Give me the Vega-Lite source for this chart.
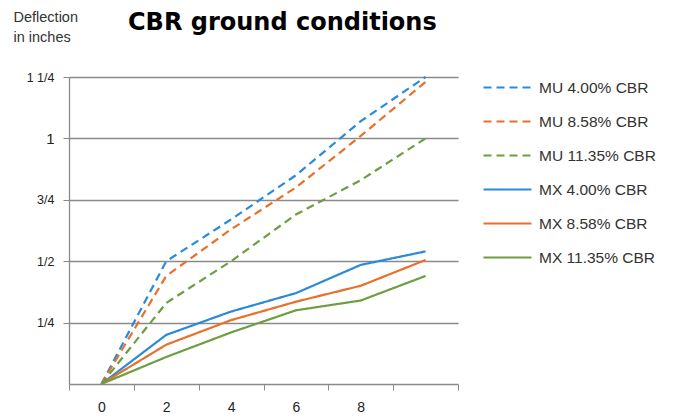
{
  "$schema": "https://vega.github.io/schema/vega-lite/v6.json",
  "width": 389,
  "height": 307,
  "autosize": "none",
  "padding": {"left": 69, "top": 77, "right": 217, "bottom": 34},
  "background": "white",
  "title": {
    "text": "CBR ground conditions",
    "anchor": "start",
    "frame": "group",
    "dx": 59,
    "offset": -26,
    "font": "DejaVu Sans",
    "fontSize": 24,
    "fontWeight": "bold",
    "color": "#000000"
  },
  "data": {
    "values": [
      {"x": 0, "series": "MU 4.00% CBR", "d": 0},
      {"x": 2, "series": "MU 4.00% CBR", "d": 0.5},
      {"x": 4, "series": "MU 4.00% CBR", "d": 0.67},
      {"x": 6, "series": "MU 4.00% CBR", "d": 0.85},
      {"x": 8, "series": "MU 4.00% CBR", "d": 1.07},
      {"x": 10, "series": "MU 4.00% CBR", "d": 1.25},
      {"x": 0, "series": "MU 8.58% CBR", "d": 0},
      {"x": 2, "series": "MU 8.58% CBR", "d": 0.44},
      {"x": 4, "series": "MU 8.58% CBR", "d": 0.63},
      {"x": 6, "series": "MU 8.58% CBR", "d": 0.8},
      {"x": 8, "series": "MU 8.58% CBR", "d": 1.01},
      {"x": 10, "series": "MU 8.58% CBR", "d": 1.23},
      {"x": 0, "series": "MU 11.35% CBR", "d": 0},
      {"x": 2, "series": "MU 11.35% CBR", "d": 0.33},
      {"x": 4, "series": "MU 11.35% CBR", "d": 0.5},
      {"x": 6, "series": "MU 11.35% CBR", "d": 0.69},
      {"x": 8, "series": "MU 11.35% CBR", "d": 0.83},
      {"x": 10, "series": "MU 11.35% CBR", "d": 1.0},
      {"x": 0, "series": "MX 4.00% CBR", "d": 0},
      {"x": 2, "series": "MX 4.00% CBR", "d": 0.2},
      {"x": 4, "series": "MX 4.00% CBR", "d": 0.295},
      {"x": 6, "series": "MX 4.00% CBR", "d": 0.37},
      {"x": 8, "series": "MX 4.00% CBR", "d": 0.485},
      {"x": 10, "series": "MX 4.00% CBR", "d": 0.54},
      {"x": 0, "series": "MX 8.58% CBR", "d": 0},
      {"x": 2, "series": "MX 8.58% CBR", "d": 0.16},
      {"x": 4, "series": "MX 8.58% CBR", "d": 0.26},
      {"x": 6, "series": "MX 8.58% CBR", "d": 0.335},
      {"x": 8, "series": "MX 8.58% CBR", "d": 0.4},
      {"x": 10, "series": "MX 8.58% CBR", "d": 0.505},
      {"x": 0, "series": "MX 11.35% CBR", "d": 0},
      {"x": 2, "series": "MX 11.35% CBR", "d": 0.11},
      {"x": 4, "series": "MX 11.35% CBR", "d": 0.21},
      {"x": 6, "series": "MX 11.35% CBR", "d": 0.3},
      {"x": 8, "series": "MX 11.35% CBR", "d": 0.34},
      {"x": 10, "series": "MX 11.35% CBR", "d": 0.44}
    ]
  },
  "mark": {"type": "line", "strokeWidth": 2.2},
  "encoding": {
    "x": {
      "field": "x",
      "type": "ordinal",
      "bandPosition": 0.5,
      "scale": {"type": "band", "paddingInner": 0, "paddingOuter": 0},
      "axis": {
        "title": null,
        "labelAngle": 0,
        "tickBand": "extent",
        "labelExpr": "datum.value == 10 ? '' : datum.label",
        "labelFont": "Liberation Sans",
        "labelFontSize": 14,
        "labelColor": "#222222",
        "labelPadding": 10,
        "tickSize": 6,
        "tickColor": "#8a8a8a",
        "domainColor": "#8a8a8a",
        "domainWidth": 1.3,
        "grid": false
      }
    },
    "y": {
      "field": "d",
      "type": "quantitative",
      "scale": {"domain": [0, 1.25], "nice": false},
      "axis": {
        "values": [0.25, 0.5, 0.75, 1, 1.25],
        "labelExpr": "datum.value == 0.25 ? '1/4' : datum.value == 0.5 ? '1/2' : datum.value == 0.75 ? '3/4' : datum.value == 1 ? '1' : '1 1/4'",
        "labelFont": "Liberation Sans",
        "labelFontSize": {"condition": {"test": "datum.value == 1", "value": 15}, "value": 12.5},
        "labelColor": "#222222",
        "labelPadding": 9,
        "tickSize": 6,
        "tickColor": "#8a8a8a",
        "domainColor": "#8a8a8a",
        "domainWidth": 1.3,
        "grid": true,
        "gridColor": "#8a8a8a",
        "gridWidth": 1.3,
        "title": ["Deflection", "in inches"],
        "titleAngle": 0,
        "titleAlign": "left",
        "titleBaseline": "top",
        "titleX": -56,
        "titleY": -67,
        "titleFont": "Liberation Sans",
        "titleFontSize": 14.5,
        "titleFontWeight": "normal",
        "titleColor": "#333333",
        "titleLineHeight": 20
      }
    },
    "color": {
      "field": "series",
      "type": "nominal",
      "scale": {
        "domain": ["MU 4.00% CBR", "MU 8.58% CBR", "MU 11.35% CBR", "MX 4.00% CBR", "MX 8.58% CBR", "MX 11.35% CBR"],
        "range": ["#2a8ad8", "#e8702a", "#6e9e40", "#2a8ad8", "#e8702a", "#6e9e40"]
      },
      "legend": {
        "title": null,
        "orient": "none",
        "legendX": 413,
        "legendY": -15,
        "symbolType": "stroke",
        "symbolSize": 2304,
        "symbolStrokeWidth": 2.2,
        "rowPadding": -8.5,
        "labelOffset": 6,
        "labelFont": "Liberation Sans",
        "labelFontSize": 15.5,
        "labelColor": "#333333"
      }
    },
    "strokeDash": {
      "field": "series",
      "type": "nominal",
      "scale": {
        "domain": ["MU 4.00% CBR", "MU 8.58% CBR", "MU 11.35% CBR", "MX 4.00% CBR", "MX 8.58% CBR", "MX 11.35% CBR"],
        "range": [[8, 5], [8, 5], [8, 5], [1, 0], [1, 0], [1, 0]]
      }
    }
  },
  "config": {
    "view": {"stroke": null}
  }
}
